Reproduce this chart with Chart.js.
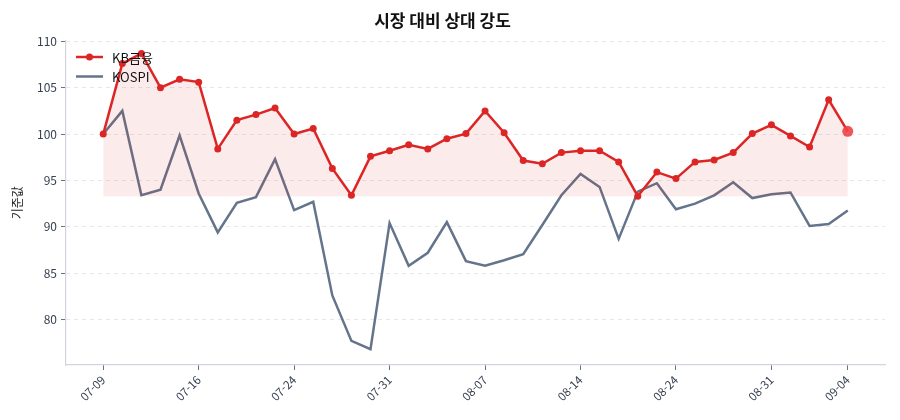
<!DOCTYPE html>
<html lang="ko">
<head>
<meta charset="utf-8">
<title>시장 대비 상대 강도</title>
<script src="https://cdn.jsdelivr.net/npm/chart.js@4.4.1/dist/chart.umd.min.js"></script>
<style>
    html, body { margin: 0; padding: 0; background: #ffffff; }
    #wrap { width: 900px; height: 420px; position: relative; }
</style>
</head>
<body>
<div id="wrap"><canvas id="rsChart"></canvas></div>
<script>
// ==================== Data ====================

// 거래일 (40일)
const dates = [
    '07-09', '07-10', '07-11', '07-14', '07-15', '07-16', '07-17', '07-18', '07-21', '07-22',
    '07-24', '07-25', '07-28', '07-29', '07-30', '07-31', '08-01', '08-04', '08-05', '08-06',
    '08-07', '08-08', '08-11', '08-12', '08-13', '08-14', '08-18', '08-19', '08-20', '08-22',
    '08-24', '08-25', '08-26', '08-27', '08-29', '08-31', '09-01', '09-02', '09-03', '09-04'
];

// x축에 표시할 눈금 위치
const tickIndices = [0, 5, 10, 15, 20, 25, 30, 35, 39];

// y축 눈금
const yTicks = [80, 85, 90, 95, 100, 105, 110];

// KB금융 (기준 100)
const kbValues = [
    100.0, 107.6, 108.7, 105.0, 105.9, 105.6, 98.4, 101.5, 102.1, 102.8,
    100.0, 100.6, 96.3, 93.4, 97.6, 98.2, 98.85, 98.4, 99.5, 100.05,
    102.5, 100.15, 97.15, 96.8, 98.0, 98.2, 98.2, 97.0, 93.3, 95.9,
    95.2, 97.0, 97.2, 98.0, 100.05, 101.0, 99.8, 98.6, 103.7, 100.3
];

// KOSPI (기준 100)
const kospiValues = [
    100.0, 102.5, 93.4, 94.0, 99.85, 93.6, 89.4, 92.6, 93.2, 97.3,
    91.8, 92.7, 82.6, 77.7, 76.8, 90.4, 85.8, 87.2, 90.5, 86.3,
    85.8, 86.4, 87.05, 90.2, 93.4, 95.7, 94.3, 88.7, 93.8, 94.7,
    91.9, 92.5, 93.4, 94.8, 93.1, 93.5, 93.7, 90.1, 90.3, 91.75
];

// ==================== Chart ====================

const FONT = "'Noto Sans CJK KR', 'Noto Sans', sans-serif";
const KB_COLOR = '#dc2626';
const KOSPI_COLOR = '#64748b';
const kbMin = Math.min(...kbValues);
const lastIdx = kbValues.length - 1;

/**
 * 차트 안쪽 좌상단 범례
 */
const innerLegend = {
    id: 'innerLegend',
    afterDraw(chart) {
        const ctx = chart.ctx;
        const items = [
            { label: 'KB금융', color: KB_COLOR, marker: true },
            { label: 'KOSPI', color: KOSPI_COLOR, marker: false }
        ];
        ctx.save();
        ctx.font = `13px ${FONT}`;
        ctx.textBaseline = 'middle';
        items.forEach((item, i) => {
            const y = 57 + i * 19.5;
            ctx.strokeStyle = item.color;
            ctx.lineWidth = 2.5;
            ctx.beginPath();
            ctx.moveTo(76, y);
            ctx.lineTo(103, y);
            ctx.stroke();
            if (item.marker) {
                ctx.fillStyle = item.color;
                ctx.beginPath();
                ctx.arc(89.5, y, 3.5, 0, Math.PI * 2);
                ctx.fill();
            }
            ctx.fillStyle = '#111111';
            ctx.fillText(item.label, 112, y + 1);
        });
        ctx.restore();
    }
};

new Chart(document.getElementById('rsChart'), {
    type: 'line',
    data: {
        datasets: [
            {
                label: 'KB금융',
                data: kbValues.map((v, i) => ({ x: i, y: v })),
                borderColor: KB_COLOR,
                borderWidth: 2.5,
                backgroundColor: 'rgba(220, 38, 38, 0.09)',
                fill: { value: kbMin },
                pointRadius: c => (c.dataIndex === lastIdx ? 5.5 : 3.5),
                pointBackgroundColor: c => (c.dataIndex === lastIdx ? 'rgba(239, 68, 68, 0.9)' : KB_COLOR),
                pointBorderWidth: 0,
                tension: 0,
                order: 1
            },
            {
                label: 'KOSPI',
                data: kospiValues.map((v, i) => ({ x: i, y: v })),
                borderColor: KOSPI_COLOR,
                borderWidth: 2.5,
                pointRadius: 0,
                fill: false,
                tension: 0,
                order: 2
            }
        ]
    },
    options: {
        responsive: true,
        maintainAspectRatio: false,
        animation: false,
        layout: { padding: { top: 2, right: 15, bottom: 0, left: 0 } },
        plugins: {
            legend: { display: false },
            tooltip: { enabled: false },
            title: {
                display: true,
                text: '시장 대비 상대 강도',
                color: '#111111',
                font: { family: FONT, size: 17, weight: 'bold' },
                padding: { top: 8, bottom: 10 }
            }
        },
        scales: {
            x: {
                type: 'linear',
                min: -1.95,
                max: lastIdx + 1.95,
                afterBuildTicks: axis => {
                    axis.ticks = tickIndices.map(v => ({ value: v }));
                },
                afterFit: axis => { axis.height = 55; },
                ticks: {
                    autoSkip: false,
                    maxRotation: 45,
                    minRotation: 45,
                    color: '#374151',
                    font: { family: FONT, size: 11.5 },
                    callback: v => dates[v]
                },
                grid: {
                    drawOnChartArea: false,
                    drawTicks: true,
                    tickLength: 5,
                    tickColor: '#6b7280'
                },
                border: { display: true, color: '#d1d5db', width: 1.2 }
            },
            y: {
                min: 75.1,
                max: 110.1,
                afterBuildTicks: axis => {
                    axis.ticks = yTicks.map(v => ({ value: v }));
                },
                afterFit: axis => { axis.width = 66; },
                title: {
                    display: true,
                    text: '기준값',
                    color: '#222222',
                    font: { family: FONT, size: 12 },
                    padding: { top: 10, bottom: 0 }
                },
                ticks: {
                    color: '#374151',
                    font: { family: FONT, size: 12 },
                    padding: 4
                },
                grid: {
                    color: '#e5e7eb',
                    drawTicks: true,
                    tickLength: 5,
                    tickColor: '#6b7280',
                    tickBorderDash: [],
                    tickWidth: 1
                },
                border: { display: true, color: '#d1d5db', width: 1.2, dash: [4, 4] }
            }
        }
    },
    plugins: [innerLegend]
});
</script>
</body>
</html>
